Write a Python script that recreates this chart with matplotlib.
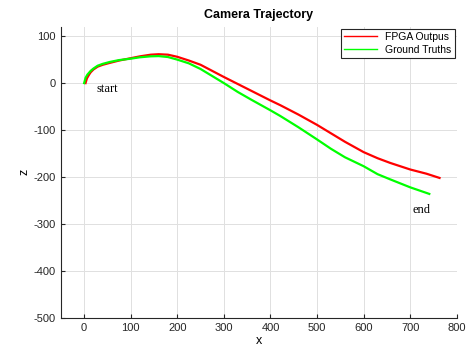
import numpy as np
import matplotlib.pyplot as plt
from matplotlib.lines import Line2D

plt.rcParams['font.family'] = ['Liberation Sans', 'DejaVu Sans']
plt.rcParams['axes.unicode_minus'] = False

# FPGA output trajectory (x, z)
fpga_x = [3, 6, 10, 14, 20, 29, 40, 55, 75, 100, 120, 143, 160, 180, 200, 225, 250, 275, 300,
          330, 360, 400, 421, 460, 500, 530, 560, 600, 630, 657, 700, 735, 763]
fpga_z = [0, 10, 17, 23, 29, 35, 39, 43, 48, 53, 57, 60.5, 61.5, 60.5, 56, 48, 39, 26, 13,
          -2, -17, -37, -47, -67, -89, -107, -125, -147, -160, -170, -184, -193, -202]

# Ground truth trajectory (x, z)
gt_x = [0, 3, 7, 14, 20, 29, 40, 55, 75, 100, 120, 143, 160, 180, 200, 225, 250, 275, 300,
        330, 360, 400, 421, 460, 500, 530, 560, 600, 630, 657, 700, 741]
gt_z = [0, 11, 18, 26, 31, 37, 41, 45, 49, 52, 55, 57, 57.5, 55.5, 50, 42, 30, 15, 0,
        -19, -36, -58, -70, -94, -120, -140, -158, -177, -194, -205, -222, -236]

fig = plt.figure(figsize=(4.68, 3.52), dpi=100)
ax = fig.add_axes([0.130, 0.097, 0.846, 0.827])

ax.plot(fpga_x, fpga_z, color='#ff0000', lw=1.6)
ax.plot(gt_x, gt_z, color='#00ff00', lw=1.6)

ax.text(27, -12, 'start', family='Liberation Serif', fontsize=9, va='center', ha='left')
ax.text(705, -270, 'end', family='Liberation Serif', fontsize=9, va='center', ha='left')

ax.set_xlim(-50, 800)
ax.set_ylim(-500, 120)
ax.set_xticks(np.arange(0, 801, 100))
ax.set_yticks(np.arange(-500, 101, 100))
ax.tick_params(direction='in', labelsize=8, length=3, colors='#262626')
ax.grid(True, color='#e0e0e0', lw=0.7)
ax.set_axisbelow(True)
for s in ['top', 'right']:
    ax.spines[s].set_visible(False)
for s in ['left', 'bottom']:
    ax.spines[s].set_color('#262626')

ax.set_xlabel('x', fontsize=9, labelpad=2)
ax.set_ylabel('z', fontsize=9, labelpad=2)
ax.set_title('Camera Trajectory', fontsize=9, fontweight='bold', pad=6)

handles = [Line2D([0], [0], color='#ff0000', lw=1),
           Line2D([0], [0], color='#00ff00', lw=1)]
leg = ax.legend(handles, ['FPGA Outpus', 'Ground Truths'], loc='upper right',
                bbox_to_anchor=(1.0, 1.0), fontsize=7.5, fancybox=False,
                edgecolor='#262626', framealpha=1, borderpad=0.3,
                handlelength=3.2, labelspacing=0.25, borderaxespad=0.2)
leg.get_frame().set_linewidth(0.8)

fig.savefig('out.png', dpi=100)
